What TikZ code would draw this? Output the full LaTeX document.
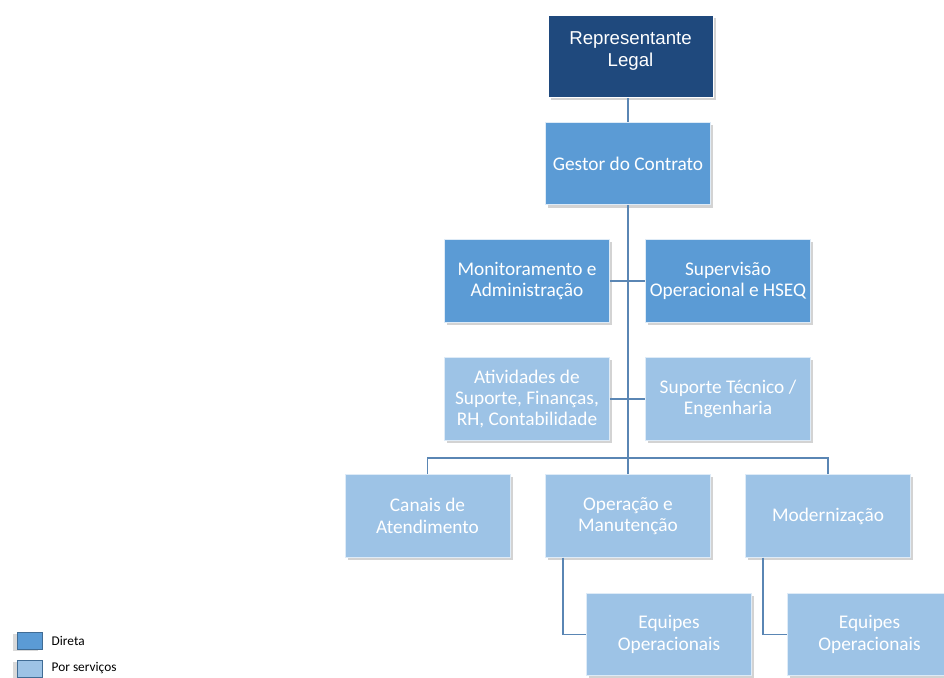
\documentclass[tikz,border=0pt]{standalone}
\usepackage{fontspec}
\setmainfont{Carlito}
\newfontfamily\arialfont{Liberation Sans}
\usetikzlibrary{shadows}
\definecolor{chefe}{HTML}{1F497D}
\definecolor{direta}{HTML}{5B9BD5}
\definecolor{servico}{HTML}{9DC3E6}
\definecolor{linha}{HTML}{5A86B4}
\begin{document}
\begin{tikzpicture}[x=0.75pt,y=-0.75pt,
  caixa/.style={minimum width=123.75pt,minimum height=62pt,align=center,text=white,
    draw=white!80!direta,line width=0.6pt,
    font=\fontsize{14.5}{16}\selectfont,
    drop shadow={shadow xshift=2pt,shadow yshift=-2pt,opacity=0.35}},
  dir/.style={caixa,fill=direta},
  serv/.style={caixa,fill=servico},
  lig/.style={draw=linha,line width=1.1pt},
  leg/.style={draw=direta!70!black,line width=0.5pt,minimum width=18.75pt,minimum height=13pt,
    drop shadow={shadow xshift=-3pt,shadow yshift=-1.5pt,opacity=0.3}}]
\useasboundingbox (0,0) rectangle (944,677);
% chefia
\node[caixa,fill=chefe,draw=white,font=\arialfont\fontsize{14}{16}\selectfont,text depth=11pt] (rep) at (630.5,56.5) {Representante\\Legal};
\node[dir] (gestor) at (628,163.5) {Gestor do Contrato};
% apoio
\node[dir] (monit) at (527,281) {Monitoramento e\\Administra\c{c}\~ao};
\node[dir] (superv) at (728,281) {Supervis\~ao\\Operacional e HSEQ};
\node[serv] (ativ) at (527,399) {Atividades de\\Suporte, Finan\c{c}as,\\RH, Contabilidade};
\node[serv] (suporte) at (728,399) {Suporte T\'ecnico /\\Engenharia};
% areas
\node[serv] (canais) at (427.5,516) {Canais de\\Atendimento};
\node[serv] (oper) at (628,516) {Opera\c{c}\~ao e\\Manuten\c{c}\~ao};
\node[serv] (modern) at (828,516) {Moderniza\c{c}\~ao};
\node[serv] (equipe1) at (669,634.5) {Equipes\\Operacionais};
\node[serv] (equipe2) at (869.5,634.5) {Equipes\\Operacionais};
\coordinate (barra) at (628,458);
% ligacoes
\draw[lig](rep.south -| gestor.north)--(gestor.north);
\draw[lig](gestor.south)--(barra);
\draw[lig](monit.east)--(superv.west);
\draw[lig](ativ.east)--(suporte.west);
\draw[lig](barra)-|(canais.north);
\draw[lig](barra)-|(modern.north);
\draw[lig](barra)--(oper.north);
\draw[lig]([xshift=13.5pt]oper.south west)|-(equipe1.west);
\draw[lig]([xshift=13.5pt]modern.south west)|-(equipe2.west);
% legenda
\node[leg,fill=direta] (ldir) at (29.5,640.5) {};
\node[leg,fill=servico] (lserv) at (29.5,668.5) {};
\node[right,font=\fontsize{10}{12}\selectfont] at (47,640.5) (tdir) {Direta};
\node[right,font=\fontsize{10}{12}\selectfont] at (47,668.5) (tserv) {Por servi\c{c}os};
\end{tikzpicture}
\end{document}
